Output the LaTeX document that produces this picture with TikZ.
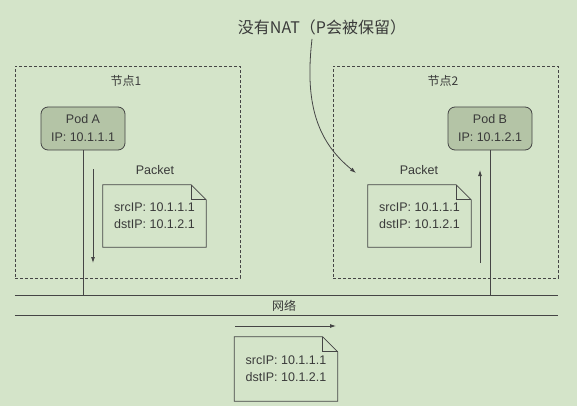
\documentclass[tikz,border=0pt]{standalone}
\usepackage{fontspec}
\setmainfont{Liberation Sans}
\newfontfamily\cjk{Noto Sans CJK SC}
\usetikzlibrary{arrows.meta}
\definecolor{bgc}{HTML}{D4E4C9}
\definecolor{podc}{HTML}{B4C4A6}
\definecolor{inkc}{HTML}{454545}
\definecolor{txtc}{HTML}{3A3A3A}
\tikzset{
  nodebox/.style={draw=inkc, dashed, dash pattern=on 3pt off 2pt, line width=0.8pt, minimum width=225pt, minimum height=212pt},
  podbox/.style={draw=inkc, fill=podc, rounded corners=7pt, line width=0.8pt, minimum width=84pt, minimum height=43pt, align=center, font=\fontsize{12.5}{18}\selectfont, text=txtc, inner sep=0pt},
  docbox/.style={minimum width=103pt, minimum height=62pt, align=left, font=\fontsize{12.5}{17}\selectfont, text=txtc, inner sep=0pt},
  lbl/.style={font=\fontsize{12.5}{15}\selectfont, text=txtc, inner sep=0pt},
  cjklbl/.style={font=\cjk\fontsize{12}{14}\selectfont, text=txtc, inner sep=0pt},
  wire/.style={draw=inkc, line width=0.8pt},
  flow/.style={draw=inkc, line width=0.8pt, -{Latex[length=6pt,width=4pt]}},
}
\newcommand{\docoutline}[1]{%
  \draw[wire] (#1.north west) -- ([xshift=-15pt]#1.north east) -- ([yshift=-15pt]#1.north east) -- (#1.south east) -- (#1.south west) -- cycle;
  \draw[wire] ([xshift=-15pt]#1.north east) |- ([yshift=-15pt]#1.north east);
}
\begin{document}
\begin{tikzpicture}[x=1pt,y=-1pt]
\fill[bgc] (0,0) rectangle (577,406);
\useasboundingbox (0,0) rectangle (577,406);

% title
\node[font=\cjk\fontsize{16}{18}\selectfont, text=txtc, inner sep=0pt] (title) at (322,27) {没有NAT（P会被保留）};

% node boxes
\node[nodebox] (n1) at (127.5,172) {};
\node[nodebox] (n2) at (445.5,172) {};
\node[cjklbl] (n1l) at (126,81) {节点1};
\node[cjklbl] (n2l) at (443,81) {节点2};

% pods
\node[podbox] (podA) at (83,128.5) {Pod A\\IP: 10.1.1.1};
\node[podbox] (podB) at (490,128.5) {Pod B\\IP: 10.1.2.1};

% network
\node[minimum width=543pt, minimum height=19pt, inner sep=0pt] (net) at (286.5,305.5) {};
\node[cjklbl] (netl) at (284,305.5) {网络};
\draw[wire] (net.north west) -- (net.north east);
\draw[wire] (net.south west) -- (net.south east);

% pod links
\draw[wire] (podA.south) -- (podA.south |- net.north);
\draw[wire] (podB.south) -- (podB.south |- net.north);

% packet labels
\node[lbl] (p1l) at (155,170) {Packet};
\node[lbl] (p2l) at (419,170) {Packet};

% packet docs
\node[docbox] (d1) at (154.5,216) {srcIP: 10.1.1.1\\dstIP: 10.1.2.1};
\node[docbox] (d2) at (419.5,216) {srcIP: 10.1.1.1\\dstIP: 10.1.2.1};
\node[docbox, minimum height=64pt] (d3) at (286,369) {srcIP: 10.1.1.1\\dstIP: 10.1.2.1};
\docoutline{d1}
\docoutline{d2}
\docoutline{d3}

% flow arrows
\coordinate (a1s) at (93,169);
\coordinate (a1e) at (93,263);
\coordinate (a2s) at (480,263);
\coordinate (a2e) at (480,170);
\coordinate (a3s) at (235,326);
\coordinate (a3e) at (336,326);
\draw[flow] (a1s) -- (a1e);
\draw[flow] (a2s) -- (a2e);
\draw[flow] (a3s) -- (a3e);

% callout curve
\coordinate (cs) at (312,39);
\coordinate (ce) at (356,173);
\draw[flow] (cs) .. controls (305,100) and (315,140) .. (ce);
\end{tikzpicture}
\end{document}
